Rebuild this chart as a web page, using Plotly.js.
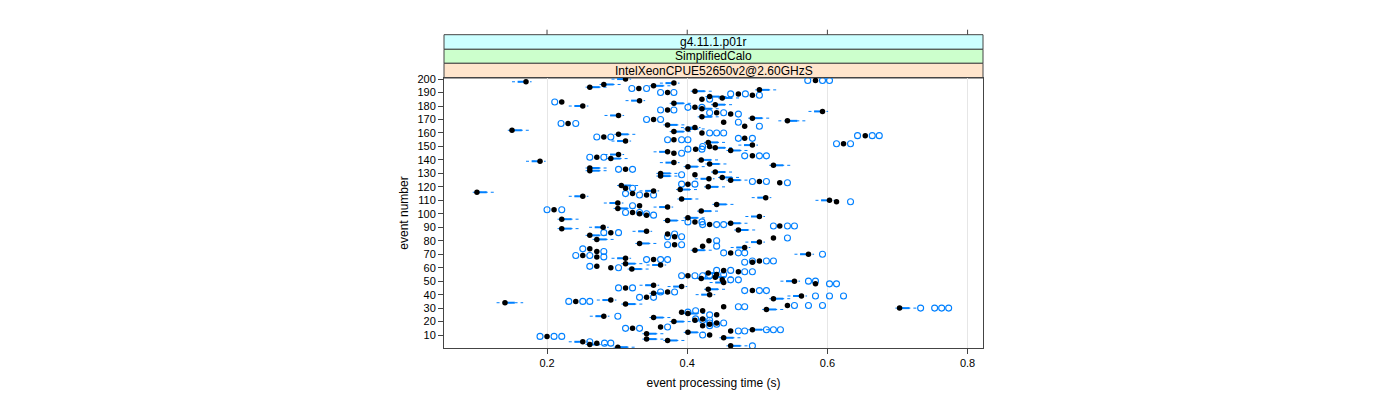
<!DOCTYPE html>
<html>
<head>
<meta charset="utf-8">
<script src="https://cdn.plot.ly/plotly-3.0.1.min.js"></script>
<style>body{margin:0;background:#fff}#chart{width:1400px;height:400px}</style>
</head>
<body>
<div id="chart"></div>
<script>
// one row per event number (index + 1), times in seconds
var median = [
  0.301,0.462,0.261,0.271,0.251,0.372,0.342,0.452,0.200,0.432,
  0.342,0.401,0.462,0.493,0.322,0.362,0.422,0.432,0.442,0.381,
  0.411,0.422,0.352,0.281,0.442,0.401,0.392,0.422,0.513,0.703,
  0.452,0.543,0.312,0.140,0.241,0.291,0.523,0.342,0.563,0.432,
  0.352,0.372,0.493,0.430,0.312,0.392,0.352,0.583,0.452,0.553,
  0.450,0.420,0.440,0.401,0.442,0.430,0.473,0.452,0.321,0.291,
  0.271,0.362,0.312,0.493,0.503,0.352,0.312,0.271,0.251,0.573,
  0.462,0.271,0.411,0.261,0.482,0.422,0.382,0.332,0.503,0.431,
  0.271,0.523,0.382,0.261,0.372,0.291,0.342,0.473,0.221,0.280,
  0.532,0.432,0.462,0.411,0.372,0.221,0.401,0.503,0.342,0.332,
  0.322,0.420,0.210,0.301,0.372,0.332,0.442,0.301,0.613,0.603,
  0.392,0.512,0.251,0.342,0.322,0.100,0.352,0.390,0.312,0.430,
  0.306,0.401,0.532,0.503,0.462,0.431,0.450,0.362,0.411,0.362,
  0.440,0.261,0.312,0.261,0.401,0.523,0.432,0.381,0.190,0.420,
  0.291,0.271,0.493,0.302,0.381,0.372,0.462,0.412,0.440,0.432,
  0.493,0.623,0.430,0.312,0.381,0.482,0.281,0.654,0.302,0.421,
  0.381,0.150,0.401,0.411,0.482,0.372,0.230,0.452,0.543,0.352,
  0.493,0.421,0.302,0.462,0.442,0.593,0.372,0.421,0.411,0.251,
  0.440,0.381,0.221,0.332,0.421,0.450,0.432,0.493,0.473,0.372,
  0.411,0.503,0.331,0.261,0.352,0.281,0.381,0.170,0.583,0.312
];
var boxLow = [
  .299,.460,.259,.269,.239,.370,.340,.450,.198,.430,
  .340,.399,.460,.491,.320,.360,.420,.430,.440,.379,
  .409,.420,.350,.269,.440,.399,.390,.420,.511,.701,
  .450,.541,.310,.138,.239,.279,.521,.340,.551,.420,
  .350,.370,.491,.428,.310,.380,.340,.581,.440,.541,
  .448,.418,.438,.399,.440,.428,.471,.450,.319,.289,
  .269,.350,.310,.491,.501,.350,.300,.269,.249,.561,
  .460,.269,.409,.259,.470,.420,.380,.330,.491,.429,
  .269,.521,.380,.259,.370,.289,.330,.471,.219,.268,
  .530,.430,.460,.409,.370,.219,.399,.491,.340,.330,
  .320,.418,.208,.299,.360,.330,.440,.289,.611,.591,
  .390,.500,.239,.340,.320,.098,.340,.388,.310,.428,
  .304,.399,.530,.501,.460,.419,.448,.360,.409,.360,
  .438,.259,.310,.259,.399,.521,.430,.369,.178,.418,
  .289,.269,.491,.290,.379,.360,.460,.410,.438,.430,
  .481,.621,.428,.300,.379,.480,.279,.652,.300,.419,
  .379,.148,.399,.399,.480,.370,.228,.450,.541,.350,
  .491,.419,.290,.460,.440,.581,.370,.419,.409,.239,
  .438,.379,.219,.320,.419,.448,.430,.491,.471,.370,
  .409,.501,.329,.259,.350,.279,.369,.158,.581,.300
];
var boxHigh = [
  .315,.476,.275,.274,.253,.386,.356,.466,.203,.435,
  .356,.415,.465,.507,.325,.365,.425,.435,.445,.395,
  .414,.425,.366,.283,.445,.415,.395,.425,.527,.717,
  .455,.546,.326,.154,.244,.293,.537,.345,.565,.434,
  .366,.375,.496,.444,.315,.394,.354,.586,.454,.555,
  .453,.434,.454,.404,.445,.444,.476,.455,.335,.294,
  .274,.364,.326,.496,.506,.355,.314,.274,.254,.575,
  .465,.274,.425,.264,.484,.425,.385,.346,.505,.434,
  .285,.526,.385,.275,.375,.294,.344,.487,.235,.282,
  .535,.435,.476,.414,.386,.235,.415,.505,.345,.335,
  .325,.434,.213,.315,.374,.335,.456,.303,.616,.605,
  .406,.514,.253,.345,.325,.114,.354,.404,.315,.444,
  .320,.404,.535,.506,.476,.433,.464,.376,.414,.376,
  .454,.275,.315,.275,.415,.537,.446,.383,.192,.434,
  .305,.274,.496,.304,.384,.374,.476,.415,.454,.435,
  .495,.626,.444,.314,.384,.485,.284,.657,.316,.424,
  .395,.164,.415,.413,.485,.386,.233,.455,.557,.355,
  .507,.435,.304,.465,.445,.595,.375,.435,.414,.253,
  .454,.395,.224,.334,.424,.464,.446,.496,.476,.375,
  .425,.517,.334,.275,.366,.295,.383,.172,.586,.314
];
var whiskerLow = [
  .295,.456,.255,.268,.231,.366,.336,.446,.197,.429,
  .336,.395,.459,.487,.319,.359,.419,.429,.439,.375,
  .408,.419,.346,.261,.439,.395,.389,.419,.507,.697,
  .449,.540,.306,.128,.238,.271,.517,.339,.543,.412,
  .346,.369,.490,.424,.309,.372,.332,.580,.432,.533,
  .447,.414,.434,.398,.439,.424,.470,.449,.315,.288,
  .268,.342,.306,.490,.500,.349,.292,.268,.248,.553,
  .459,.268,.405,.258,.462,.419,.379,.326,.483,.428,
  .265,.520,.379,.255,.369,.288,.322,.467,.215,.260,
  .529,.429,.456,.408,.366,.215,.395,.483,.339,.329,
  .319,.414,.207,.295,.352,.329,.436,.281,.610,.583,
  .386,.492,.231,.339,.319,.094,.332,.384,.309,.424,
  .300,.398,.529,.500,.456,.411,.444,.356,.408,.356,
  .434,.255,.309,.255,.395,.517,.426,.361,.170,.414,
  .285,.268,.490,.282,.378,.352,.456,.409,.434,.429,
  .473,.620,.424,.292,.378,.479,.278,.651,.296,.418,
  .375,.144,.395,.391,.479,.366,.227,.449,.530,.349,
  .487,.415,.282,.459,.439,.573,.369,.415,.408,.231,
  .434,.375,.218,.312,.418,.444,.426,.490,.470,.369,
  .405,.497,.328,.255,.346,.275,.361,.150,.580,.292
];
var whiskerHigh = [
  .327,.488,.287,.275,.259,.398,.368,.478,.204,.436,
  .368,.427,.466,.519,.326,.366,.426,.436,.446,.407,
  .415,.426,.378,.289,.446,.427,.396,.426,.539,.729,
  .456,.547,.338,.166,.245,.299,.549,.346,.571,.440,
  .378,.376,.497,.456,.316,.400,.360,.587,.460,.561,
  .454,.446,.466,.405,.446,.456,.477,.456,.347,.295,
  .275,.370,.338,.497,.507,.356,.320,.275,.255,.581,
  .466,.275,.437,.265,.490,.426,.386,.358,.511,.435,
  .297,.527,.386,.287,.376,.295,.350,.499,.247,.288,
  .536,.436,.488,.415,.398,.247,.427,.511,.346,.336,
  .326,.446,.214,.327,.380,.336,.468,.309,.617,.611,
  .418,.520,.259,.346,.326,.126,.360,.416,.316,.456,
  .332,.405,.536,.507,.488,.439,.476,.388,.415,.388,
  .466,.287,.316,.287,.427,.549,.458,.389,.198,.446,
  .317,.275,.497,.310,.385,.380,.488,.416,.466,.436,
  .501,.627,.456,.320,.385,.486,.285,.658,.328,.425,
  .407,.176,.427,.419,.486,.398,.234,.456,.569,.356,
  .519,.447,.310,.466,.446,.601,.376,.447,.415,.259,
  .466,.407,.225,.340,.425,.476,.458,.497,.477,.376,
  .437,.529,.335,.287,.378,.307,.389,.178,.587,.320
];
var outlierEvent = [
  2,4,4,5,9,9,9,10,
  13,13,14,14,14,15,15,16,17,18,19,19,
  21,21,22,24,25,27,28,30,30,30,30,
  31,31,32,32,32,35,35,35,38,38,39,39,39,
  42,42,43,43,43,45,45,48,48,50,50,
  51,51,54,54,54,54,55,57,57,58,58,60,
  61,64,65,65,65,66,66,66,68,69,69,70,
  71,71,71,72,74,76,77,77,80,
  82,83,83,85,86,86,
  91,91,91,92,92,92,94,94,99,100,
  101,101,103,103,106,109,
  114,114,115,119,
  122,122,123,124,124,129,
  133,133,
  142,142,143,143,143,145,148,148,150,
  152,152,155,155,155,156,156,157,157,158,158,158,160,160,160,
  165,167,167,168,170,170,
  174,175,175,177,177,179,179,
  183,185,188,189,189,190,190,
  193,193,199,199,199
];
var outlierTime = [
  .493,.282,.291,.261,.190,.210,.221,.422,
  .473,.482,.513,.523,.533,.312,.332,.372,.432,.442,.432,.452,
  .422,.432,.412,.301,.432,.401,.412,.733,.753,.763,.773,
  .473,.482,.553,.573,.593,.231,.251,.261,.332,.352,.583,.603,.623,
  .362,.382,.482,.503,.513,.302,.322,.603,.613,.573,.583,
  .462,.473,.392,.411,.422,.432,.452,.482,.493,.442,.462,.302,
  .261,.482,.493,.513,.523,.342,.362,.372,.281,.241,.261,.593,
  .452,.473,.482,.281,.251,.442,.372,.392,.442,
  .543,.372,.392,.382,.281,.302,
  .523,.543,.553,.422,.442,.452,.401,.421,.352,.342,
  .312,.332,.200,.221,.322,.633,
  .332,.352,.312,.322,
  .392,.411,.543,.493,.513,.392,
  .302,.322,
  .261,.281,.482,.503,.513,.392,.401,.421,.422,
  .613,.633,.372,.392,.401,.473,.493,.271,.291,.643,.664,.674,.432,.442,.452,
  .503,.220,.241,.473,.342,.362,
  .473,.432,.452,.362,.381,.401,.421,
  .211,.432,.503,.462,.483,.362,.381,
  .321,.342,.572,.593,.603
];
var stripLabels = ["g4.11.1.p01r", "SimplifiedCalo", "IntelXeonCPUE52650v2@2.60GHzS"];
var stripColors = ["#ccffff", "#ccffcc", "#ffe5cc"];
var xTicks = [0.2, 0.4, 0.6, 0.8];
var yTicks = [10,20,30,40,50,60,70,80,90,100,110,120,130,140,150,160,170,180,190,200];

var blue = "#0080ff";
var events = median.map(function (m, i) { return i + 1; });

function segments(lo, hi) {
  var xs = [], ys = [];
  for (var i = 0; i < lo.length; i++) {
    xs.push(lo[i], hi[i], null);
    ys.push(i + 1, i + 1, null);
  }
  return { x: xs, y: ys };
}
var whisk = segments(whiskerLow, whiskerHigh);
var boxes = segments(boxLow, boxHigh);

var data = [
  { x: whisk.x, y: whisk.y, mode: "lines", type: "scatter", hoverinfo: "skip",
    line: { color: blue, width: 1, dash: "dot" } },
  { x: boxes.x, y: boxes.y, mode: "lines", type: "scatter", hoverinfo: "skip",
    line: { color: blue, width: 2 } },
  { x: outlierTime, y: outlierEvent, mode: "markers", type: "scatter",
    marker: { symbol: "circle-open", size: 6, color: blue, line: { width: 1.1, color: blue } } },
  { x: median, y: events, mode: "markers", type: "scatter",
    marker: { symbol: "circle", size: 5.5, color: "#000" } }
];

// strips sit above the panel, in paper units (panel is 270px tall)
var H = 270;
var stripTop = [1 + 43.3 / H, 1 + 28.7 / H, 1 + 14.7 / H];
var stripBottom = [1 + 28.7 / H, 1 + 14.7 / H, 1];
var shapes = [], annotations = [];
stripLabels.forEach(function (lab, i) {
  shapes.push({ type: "rect", xref: "paper", yref: "paper", x0: 0, x1: 1,
    y0: stripBottom[i], y1: stripTop[i], fillcolor: stripColors[i],
    line: { color: "#444", width: 1 }, layer: "below" });
  annotations.push({ xref: "paper", yref: "paper", x: 0.5, y: (stripTop[i] + stripBottom[i]) / 2,
    text: lab, showarrow: false, font: { size: 12, color: "#000" }, yanchor: "middle" });
});
xTicks.forEach(function (t) {
  shapes.push({ type: "line", xref: "x", yref: "paper", x0: t, x1: t,
    y0: stripTop[0], y1: stripTop[0] + 5 / H, line: { color: "#444", width: 1 } });
});

var layout = {
  width: 1400, height: 400,
  margin: { l: 444, r: 417, t: 78, b: 52 },
  showlegend: false,
  paper_bgcolor: "#fff", plot_bgcolor: "#fff",
  font: { family: "Liberation Sans, Arial, sans-serif", size: 11, color: "#000" },
  xaxis: {
    range: [0.053, 0.822], tickvals: xTicks, ticktext: xTicks.map(String),
    ticks: "outside", ticklen: 5, tickcolor: "#444",
    showgrid: true, gridcolor: "#e6e6e6", zeroline: false,
    showline: true, linecolor: "#444", mirror: true,
    title: { text: "event processing time (s)", font: { size: 12 }, standoff: 10 }
  },
  yaxis: {
    range: [0.4, 200.8], tickvals: yTicks,
    ticks: "outside", ticklen: 5, tickcolor: "#444",
    showgrid: false, zeroline: false,
    showline: true, linecolor: "#444", mirror: true,
    title: { text: "event number", font: { size: 12 }, standoff: 6 }
  },
  shapes: shapes,
  annotations: annotations
};

Plotly.newPlot(document.getElementById("chart"), data, layout, { staticPlot: true });
</script>
</body>
</html>
